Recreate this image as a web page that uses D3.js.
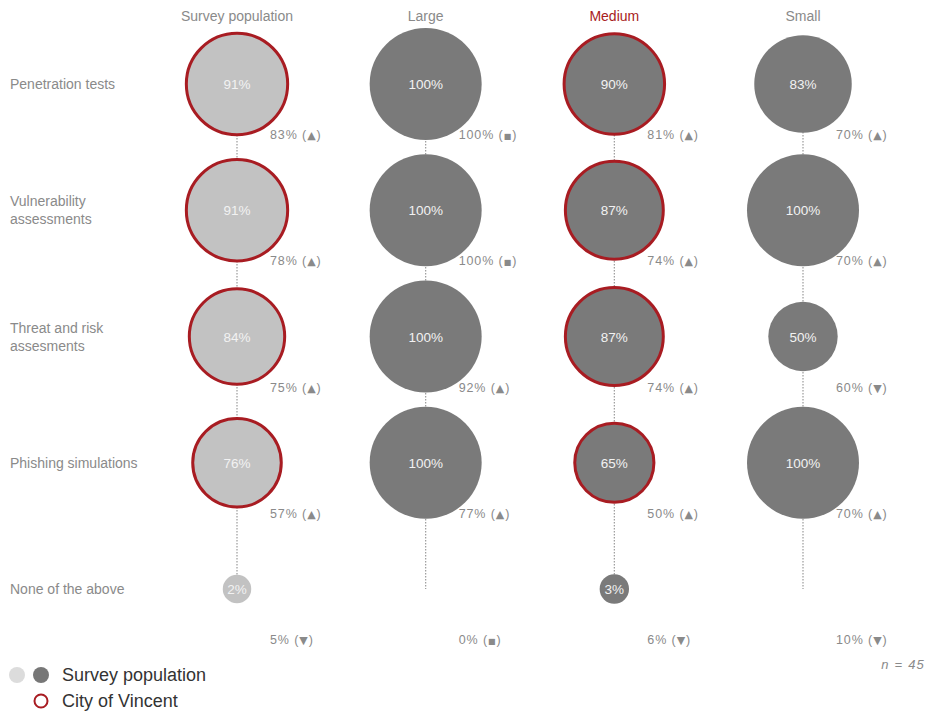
<!DOCTYPE html>
<html><head><meta charset="utf-8">
<script src="https://cdn.jsdelivr.net/npm/d3@7"></script>
<style>body{margin:0;background:#fff;font-family:"Liberation Sans",Arial,sans-serif;}</style>
</head><body><svg id="chart" width="926" height="713"></svg>
<script>
const columns = ["Survey population", "Large", "Medium", "Small"];
const rows = [["Penetration tests"], ["Vulnerability", "assessments"], ["Threat and risk", "assesments"], ["Phishing simulations"], ["None of the above"]];
// values[row][col]
const values = [
  [91, 100, 90, 83],
  [91, 100, 87, 100],
  [84, 100, 87, 50],
  [76, 100, 65, 100],
  [2, 0, 3, 0]
];
const compareValues = [
  [83, 100, 81, 70],
  [78, 100, 74, 70],
  [75, 92, 74, 60],
  [57, 77, 50, 70],
  [5, 0, 6, 10]
];
const compareTrend = [
  ["up", "same", "up", "up"],
  ["up", "same", "up", "up"],
  ["up", "up", "up", "down"],
  ["up", "up", "up", "up"],
  ["down", "same", "down", "down"]
];
const cityColumns = ["Survey population", "Medium"];
const cityRows = [0, 1, 2, 3];

const svg = d3.select("#chart");
const red = "#a81c22";
const x = d3.scalePoint().domain(columns).range([237, 803]);
const y = d3.scalePoint().domain(d3.range(rows.length)).range([84, 589]);
const r = d3.scaleLinear().domain([0, 100]).range([13.4, 56]);
const sym = {up: "▲", down: "▼", same: "■"};

// headers
svg.selectAll("text.hdr").data(columns).join("text")
  .attr("x", d => x(d)).attr("y", 21).attr("text-anchor", "middle")
  .attr("font-size", 14).attr("fill", d => d === "Medium" ? red : "#8a8a8a")
  .text(d => d);

// row labels
rows.forEach((lines, i) => {
  const t = svg.append("text").attr("x", 10).attr("font-size", 14).attr("fill", "#8a8a8a");
  const off = (lines.length - 1) * 9;
  lines.forEach((l, j) => t.append("tspan").attr("x", 10).attr("y", y(i) + 5 - off + j * 18).text(l));
});

// dotted lines
svg.selectAll("line.dot").data(columns).join("line")
  .attr("x1", d => x(d)).attr("x2", d => x(d))
  .attr("y1", y(0)).attr("y2", y(rows.length - 1))
  .attr("stroke", "#9a9a9a").attr("stroke-width", 1.2).attr("stroke-dasharray", "1.5,1.5");

const cells = [];
values.forEach((row, i) => row.forEach((v, j) => cells.push({i, j, v, col: columns[j]})));

const g = svg.append("g");
g.selectAll("circle").data(cells.filter(d => d.v > 0)).join("circle")
  .attr("cx", d => x(d.col)).attr("cy", d => y(d.i))
  .attr("r", d => r(d.v) - (cityColumns.includes(d.col) && cityRows.includes(d.i) ? 1.5 : 0))
  .attr("fill", d => d.j === 0 ? "#c2c2c2" : "#7a7a7a")
  .attr("stroke", d => cityColumns.includes(d.col) && cityRows.includes(d.i) ? red : "none")
  .attr("stroke-width", 3);

g.selectAll("text.val").data(cells.filter(d => d.v > 0)).join("text")
  .attr("x", d => x(d.col)).attr("y", d => y(d.i) + 5).attr("text-anchor", "middle")
  .attr("font-size", 13.5).attr("fill", "#f2f2f2")
  .text(d => d.v + "%");

// compare labels
const cmp = [];
compareValues.forEach((row, i) => row.forEach((v, j) => cmp.push({i, j, v, t: compareTrend[i][j], col: columns[j]})));
svg.selectAll("text.cmp").data(cmp).join("text")
  .attr("x", d => x(d.col) + 33).attr("y", d => y(d.i) + 55)
  .attr("font-size", 12.5).attr("letter-spacing", 0.9).attr("fill", "#8a8a8a")
  .each(function(d) {
    const t = d3.select(this);
    t.append("tspan").text(d.v + "% (");
    t.append("tspan").attr("font-size", d.t === "same" ? 8 : 11).attr("font-family", "DejaVu Sans").text(sym[d.t]);
    t.append("tspan").text(")");
  });

// n
svg.append("text").attr("x", 925).attr("y", 669).attr("text-anchor", "end")
  .attr("font-size", 13).attr("letter-spacing", 1.2).attr("font-style", "italic").attr("fill", "#8a8a8a").text("n = 45");

// legend
svg.append("circle").attr("cx", 17).attr("cy", 675).attr("r", 8).attr("fill", "#dcdcdc");
svg.append("circle").attr("cx", 41).attr("cy", 675).attr("r", 8).attr("fill", "#777");
svg.append("circle").attr("cx", 41).attr("cy", 701).attr("r", 6.5).attr("fill", "none").attr("stroke", red).attr("stroke-width", 2);
svg.append("text").attr("x", 62).attr("y", 681).attr("font-size", 18).attr("fill", "#333").text("Survey population");
svg.append("text").attr("x", 62).attr("y", 707).attr("font-size", 18).attr("fill", "#333").text("City of Vincent");
</script></body></html>
